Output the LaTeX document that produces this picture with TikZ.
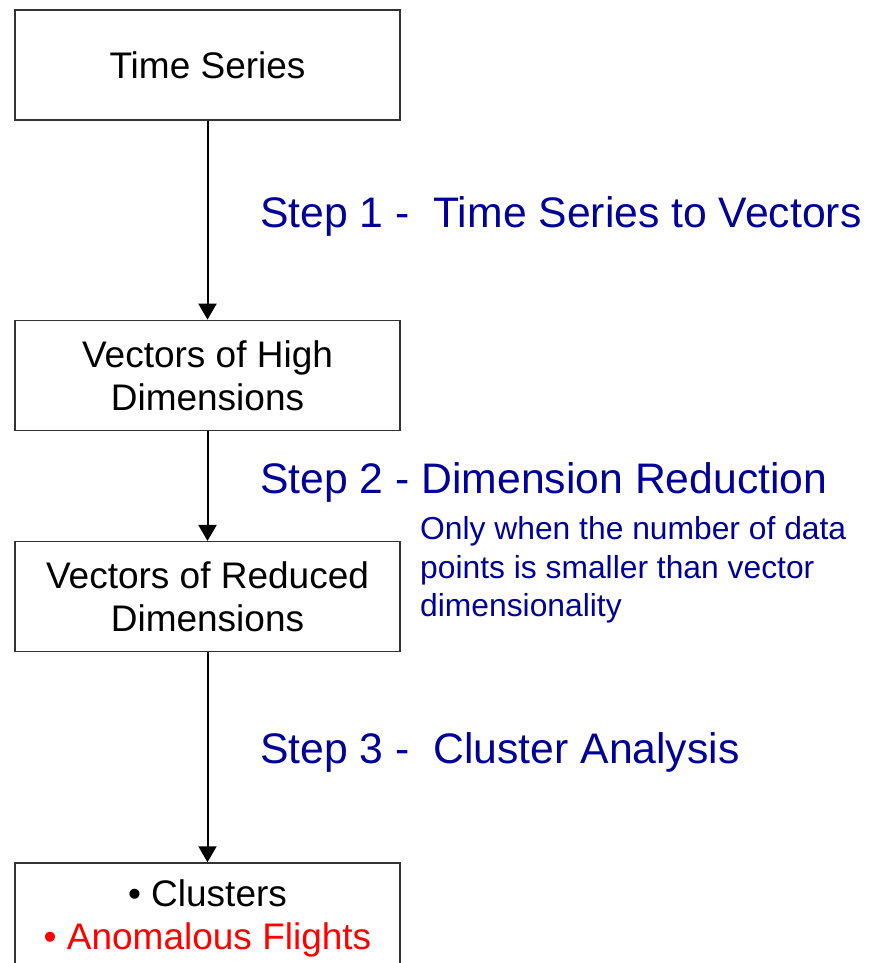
\documentclass[tikz,border=0pt]{standalone}
\usepackage{fontspec}
\setmainfont{Liberation Sans}
\usetikzlibrary{arrows.meta}
\usetikzlibrary{positioning}
\definecolor{stepblue}{RGB}{0,0,153}
\definecolor{anomred}{RGB}{255,0,0}
\tikzset{
	stagebox/.style={draw=black!80, line width=1.3pt, minimum width=385pt, minimum height=110pt, align=center, inner sep=0pt, font=\fontsize{37}{43}\selectfont},
	steplabel/.style={anchor=west, text=stepblue, inner sep=0pt, font=\fontsize{42.7}{46}\selectfont},
	flow/.style={line width=2pt, -{Triangle[length=16pt,width=18pt]}}
}
\begin{document}
\begin{tikzpicture}[x=1pt, y=1pt]
		\clip (0,0) rectangle (868,-963);
		\useasboundingbox (0,0) rectangle (868,-963);
		\node[stagebox] (TS) at (207.5,-65) {Time Series};
		\node[stagebox, below=199pt of TS] (VH) {Vectors of High\\Dimensions};
		\node[stagebox, below=110pt of VH] (VR) {Vectors of Reduced\\Dimensions};
		\node[stagebox, below=210pt of VR, minimum height=150pt, anchor=north] (CL) {};
		\node (clusters) at (207.5,-893) {\fontsize{37}{43}\selectfont \textbullet\ Clusters};
		\node[text=anomred] (anomalous) at (207.5,-940) {\fontsize{37}{43}\selectfont \textbullet\ Anomalous Flights};
		\draw[flow] (TS) -- (VH);
		\draw[flow] (VH) -- (VR);
		\draw[flow] (VR) -- (CL);
		\node[steplabel] (s1) at (260,-216) {Step 1 -\ \ Time Series to Vectors};
		\node[steplabel] (s2) at (260,-482) {Step 2 - Dimension Reduction};
		\node[steplabel, font=\fontsize{31.8}{38.5}\selectfont, align=left] (note) at (420,-570) {Only when the number of data\\points is smaller than vector\\dimensionality};
		\node[steplabel] (s3) at (260,-752) {Step 3 -\ \ Cluster Analysis};
	\end{tikzpicture}
\end{document}
